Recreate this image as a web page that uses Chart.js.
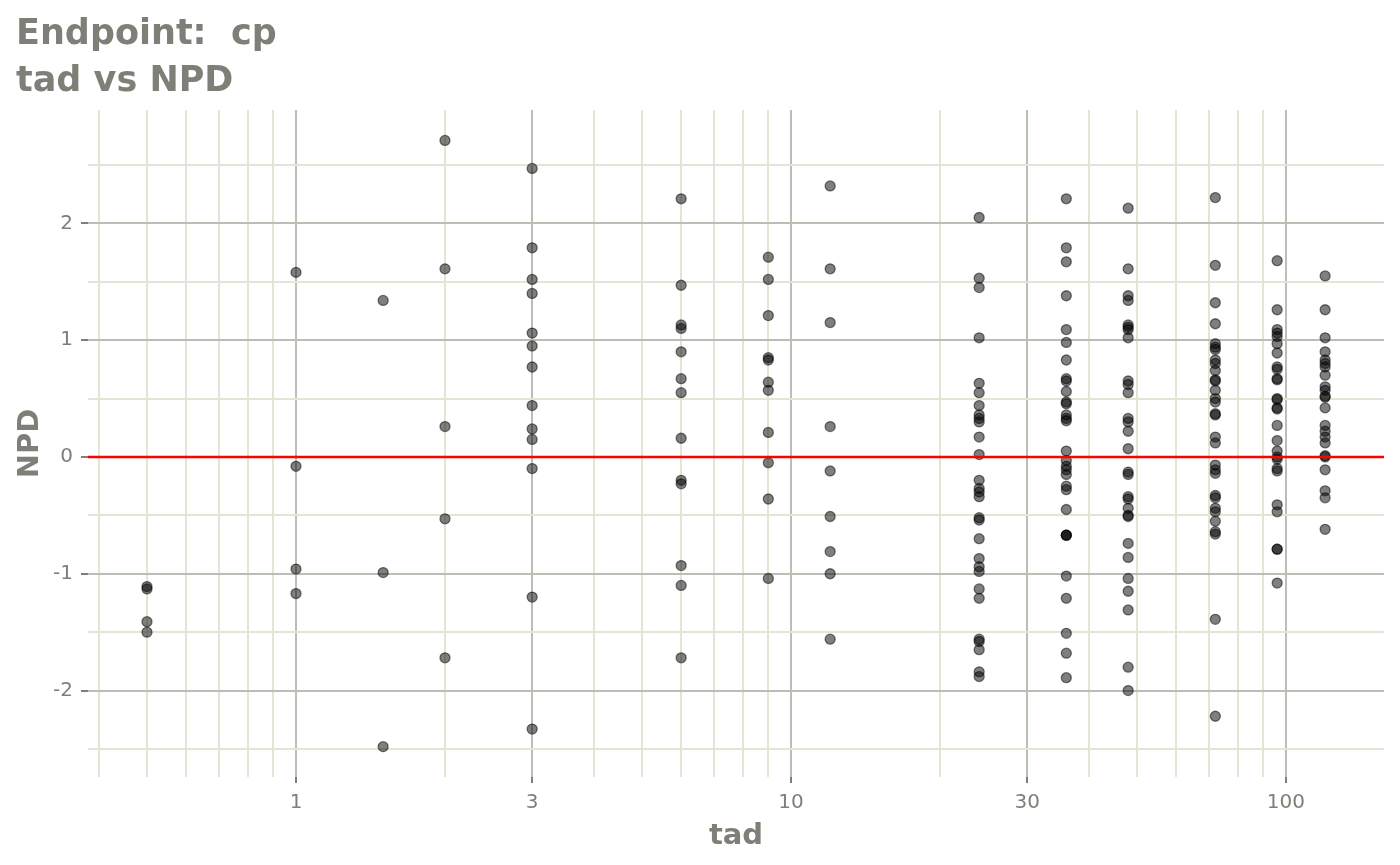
<!DOCTYPE html>
<html>
<head>
<meta charset="utf-8">
<title>tad vs NPD</title>
<script src="https://cdn.jsdelivr.net/npm/chart.js@4.4.1/dist/chart.umd.min.js"></script>
<style>
  html, body { margin: 0; padding: 0; background: #ffffff; }
  canvas { display: block; }
</style>
</head>
<body>
<canvas id="npdChart" width="1400" height="865"></canvas>
<script>
// time after dose (x categories) and NPD values, one array per time
const tadTimes = [0.5, 1, 1.5, 2, 3, 6, 9, 12, 24, 36, 48, 72, 96, 120];

const npdT0p5 = [-1.11, -1.13, -1.41, -1.50];
const npdT1 = [1.58, -0.08, -0.96, -1.17];
const npdT1p5 = [1.34, -0.99, -2.48];
const npdT2 = [2.71, 1.61, 0.26, -0.53, -1.72];
const npdT3 = [2.47, 1.79, 1.52, 1.40, 1.06, 0.95, 0.77, 0.44, 0.24, 0.15, -0.10, -1.20, -2.33];
const npdT6 = [2.21, 1.47, 1.13, 1.10, 0.90, 0.67, 0.55, 0.16, -0.20, -0.23, -0.93, -1.10, -1.72];
const npdT9 = [1.71, 1.52, 1.21, 0.85, 0.83, 0.64, 0.57, 0.21, -0.05, -0.36, -1.04];
const npdT12 = [2.32, 1.61, 1.15, 0.26, -0.12, -0.51, -0.81, -1.00, -1.56];
const npdT24 = [2.05, 1.53, 1.45, 1.02, 0.63, 0.55, 0.44, 0.36, 0.33, 0.30, 0.17, 0.02, -0.20, -0.27,
  -0.30, -0.34, -0.52, -0.54, -0.70, -0.87, -0.94, -0.98, -1.13, -1.21, -1.56, -1.58, -1.65, -1.84, -1.88];
const npdT36 = [2.21, 1.79, 1.67, 1.38, 1.09, 0.98, 0.83, 0.67, 0.65, 0.56, 0.47, 0.455, 0.36, 0.33, 0.31,
  0.05, -0.03, -0.08, -0.11, -0.15, -0.25, -0.28, -0.45, -0.67, -0.67, -0.67, -1.02, -1.21, -1.51, -1.68, -1.89];
const npdT48 = [2.13, 1.61, 1.38, 1.34, 1.13, 1.11, 1.09, 1.02, 0.65, 0.62, 0.55, 0.33, 0.30, 0.22, 0.07,
  -0.13, -0.15, -0.34, -0.36, -0.44, -0.50, -0.51, -0.74, -0.86, -1.04, -1.15, -1.31, -1.80, -2.00];
const npdT72 = [2.22, 1.64, 1.32, 1.14, 0.97, 0.94, 0.92, 0.83, 0.80, 0.74, 0.66, 0.65, 0.57, 0.50, 0.47,
  0.37, 0.36, 0.17, 0.12, -0.07, -0.11, -0.14, -0.33, -0.35, -0.44, -0.47, -0.55, -0.64, -0.66, -1.39, -2.22];
const npdT96 = [1.68, 1.26, 1.09, 1.06, 1.03, 0.97, 0.89, 0.77, 0.75, 0.67, 0.66, 0.50, 0.49, 0.42, 0.41,
  0.27, 0.14, 0.05, 0.00, -0.02, -0.10, -0.12, -0.41, -0.47, -0.79, -0.79, -1.08];
const npdT120 = [1.55, 1.26, 1.02, 0.90, 0.83, 0.80, 0.77, 0.70, 0.60, 0.57, 0.52, 0.51, 0.42, 0.27, 0.22,
  0.17, 0.12, 0.01, 0.00, -0.11, -0.29, -0.35, -0.62];

const npdSeries = [npdT0p5, npdT1, npdT1p5, npdT2, npdT3, npdT6, npdT9, npdT12,
  npdT24, npdT36, npdT48, npdT72, npdT96, npdT120];

// axis limits and breaks
const xLimits = [0.38, 157.8];
const yLimits = [-2.74, 2.97];
const xMajorTicks = [1, 3, 10, 30, 100];
const xMinorTicks = [0.4, 0.5, 0.6, 0.7, 0.8, 0.9, 2, 4, 5, 6, 7, 8, 9, 20, 40, 50, 60, 70, 80, 90];
const yMajorTicks = [-2, -1, 0, 1, 2];
const yMinorTicks = [-2.5, -1.5, -0.5, 0.5, 1.5, 2.5];
const refLineY = 0;

const textGrey = '#7f7f77';
const majorGrid = '#bdbdb3';
const minorGrid = '#e5e5d5';

// flatten into scatter points
const points = [];
tadTimes.forEach((t, i) => {
  npdSeries[i].forEach(v => points.push({ x: t, y: v }));
});

const ctx = document.getElementById('npdChart').getContext('2d');

new Chart(ctx, {
  type: 'scatter',
  data: {
    datasets: [
      {
        label: 'ref',
        type: 'line',
        data: xLimits.map(x => ({ x: x, y: refLineY })),
        borderColor: '#ff0000',
        borderWidth: 2.5,
        pointRadius: 0,
        order: 0
      },
      {
        label: 'NPD',
        data: points,
        backgroundColor: 'rgba(0,0,0,0.5)',
        borderColor: 'rgba(0,0,0,0.5)',
        borderWidth: 1.3,
        pointRadius: 5,
        order: 1
      }
    ]
  },
  options: {
    responsive: false,
    animation: false,
    devicePixelRatio: 1,
    layout: { padding: { left: 16, right: 16, top: 0, bottom: 0 } },
    plugins: {
      legend: { display: false },
      tooltip: { enabled: false },
      title: {
        display: true,
        text: ['Endpoint:  cp', 'tad vs NPD'],
        align: 'start',
        color: textGrey,
        font: { family: 'DejaVu Sans', size: 35, weight: 'bold', lineHeight: 1.343 },
        padding: { top: 11, bottom: 5 }
      }
    },
    scales: {
      x: {
        type: 'logarithmic',
        min: xLimits[0],
        max: xLimits[1],
        afterBuildTicks: (scale) => {
          scale.ticks = xMinorTicks.concat(xMajorTicks).sort((a, b) => a - b).map(v => ({ value: v }));
        },
        afterFit: (scale) => { scale.height = 88; },
        border: { display: false },
        grid: {
          color: (c) => xMajorTicks.includes(c.tick.value) ? majorGrid : minorGrid,
          lineWidth: 2,
          drawTicks: true,
          tickLength: 6,
          tickWidth: 2,
          tickColor: (c) => xMajorTicks.includes(c.tick.value) ? textGrey : 'rgba(0,0,0,0)'
        },
        ticks: {
          autoSkip: false,
          maxRotation: 0,
          padding: 8,
          color: textGrey,
          font: { family: 'DejaVu Sans', size: 20 },
          callback: (value) => xMajorTicks.includes(value) ? String(value) : ''
        },
        title: {
          display: true,
          text: 'tad',
          color: textGrey,
          font: { family: 'DejaVu Sans', size: 29, weight: 'bold', lineHeight: 1.2 },
          padding: { top: 0, bottom: 11 }
        }
      },
      y: {
        min: yLimits[0],
        max: yLimits[1],
        afterBuildTicks: (scale) => {
          scale.ticks = yMinorTicks.concat(yMajorTicks).sort((a, b) => a - b).map(v => ({ value: v }));
        },
        afterFit: (scale) => { scale.width = 72; },
        border: { display: false },
        grid: {
          color: (c) => yMajorTicks.includes(c.tick.value) ? majorGrid : minorGrid,
          lineWidth: 2,
          drawTicks: true,
          tickLength: 7,
          tickWidth: 2,
          tickColor: (c) => yMajorTicks.includes(c.tick.value) ? textGrey : 'rgba(0,0,0,0)'
        },
        ticks: {
          autoSkip: false,
          padding: 8,
          color: textGrey,
          font: { family: 'DejaVu Sans', size: 20 },
          callback: (value) => yMajorTicks.includes(value) ? String(value) : ''
        },
        title: {
          display: true,
          text: 'NPD',
          color: textGrey,
          font: { family: 'DejaVu Sans', size: 29, weight: 'bold', lineHeight: 1.0 },
          padding: { top: 0, bottom: 0 }
        }
      }
    }
  }
});
</script>
</body>
</html>
